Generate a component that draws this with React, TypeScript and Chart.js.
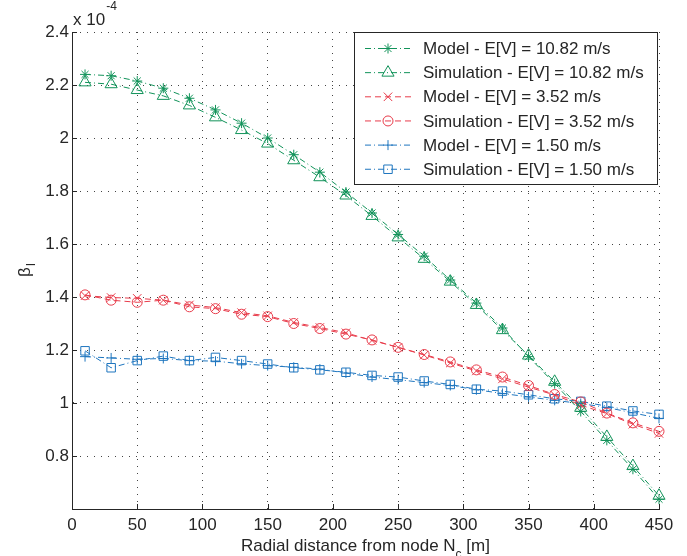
import React, { useEffect, useRef } from 'react';
import { Chart, registerables } from 'chart.js';
import { drawPoint } from 'chart.js/helpers';

Chart.register(...registerables);

// ---- data (values in units of 1e-4) ----
const distances = [10, 30, 50, 70, 90, 110, 130, 150, 170, 190, 210, 230, 250, 270, 290, 310, 330, 350, 370, 390, 410, 430, 450];

const modelHigh = [2.240, 2.235, 2.215, 2.188, 2.150, 2.106, 2.056, 2.000, 1.937, 1.871, 1.796, 1.717, 1.636, 1.554, 1.464, 1.377, 1.283, 1.175, 1.073, 0.968, 0.859, 0.750, 0.637];
const simHigh = [2.210, 2.203, 2.181, 2.159, 2.123, 2.078, 2.030, 1.979, 1.916, 1.852, 1.783, 1.706, 1.625, 1.544, 1.458, 1.370, 1.275, 1.179, 1.080, 0.982, 0.872, 0.762, 0.650];
const modelMid = [1.405, 1.398, 1.395, 1.388, 1.370, 1.360, 1.341, 1.329, 1.304, 1.285, 1.265, 1.236, 1.210, 1.181, 1.151, 1.121, 1.091, 1.060, 1.030, 0.992, 0.960, 0.920, 0.885];
const simMid = [1.408, 1.388, 1.380, 1.388, 1.363, 1.356, 1.335, 1.326, 1.300, 1.281, 1.260, 1.238, 1.210, 1.183, 1.155, 1.125, 1.098, 1.066, 1.032, 1.004, 0.962, 0.925, 0.893];
const modelLow = [1.175, 1.170, 1.165, 1.168, 1.160, 1.158, 1.148, 1.141, 1.135, 1.128, 1.113, 1.098, 1.088, 1.077, 1.066, 1.050, 1.036, 1.023, 1.010, 0.998, 0.983, 0.963, 0.942];
const simLow = [1.197, 1.133, 1.160, 1.177, 1.160, 1.172, 1.160, 1.147, 1.133, 1.125, 1.116, 1.104, 1.098, 1.083, 1.070, 1.052, 1.045, 1.031, 1.016, 1.006, 0.988, 0.970, 0.957];

const seriesLabels = [
  'Model - E[V] = 10.82 m/s',
  'Simulation - E[V] = 10.82 m/s',
  'Model - E[V] = 3.52 m/s',
  'Simulation - E[V] = 3.52 m/s',
  'Model - E[V] = 1.50 m/s',
  'Simulation - E[V] = 1.50 m/s',
];
const seriesValues = [modelHigh, simHigh, modelMid, simMid, modelLow, simLow];

const xLabelMain = 'Radial distance from node N';
const xLabelSub = 'c';
const xLabelTail = ' [m]';
const yLabelMain = 'β';
const yLabelSub = 'I';
const exponentBase = 'x 10';
const exponentPower = '-4';

// ---- styles ----
const FONT = '"Liberation Sans", Arial, Helvetica, sans-serif';
const TEXT = '#262626';
const GREEN = '#12935a';
const RED = '#e83c4b';
const BLUE = '#1f76bf';
const DASHDOT = [6, 3, 1, 3];
const DASHED = [6, 4];

const seriesColors = [GREEN, GREEN, RED, RED, BLUE, BLUE];
const seriesMarkers = ['star', 'triangle', 'crossRot', 'circle', 'cross', 'rect'];
const seriesRadius = [5, 7, 6, 5, 5, 6];
const seriesDash = [DASHDOT, DASHDOT, DASHED, DASHED, DASHDOT, DASHDOT];

const decorPlugin = {
  id: 'matlabDecor',
  afterDraw(chart: any) {
    const { ctx, chartArea } = chart;
    const { left, right, top, bottom } = chartArea;
    const xs = chart.scales.x;
    const ys = chart.scales.y;
    ctx.save();

    // inside tick marks
    ctx.strokeStyle = TEXT;
    ctx.lineWidth = 1;
    ctx.setLineDash([]);
    ctx.beginPath();
    xs.ticks.forEach((t: any) => {
      const px = Math.round(xs.getPixelForValue(t.value)) + 0.5;
      ctx.moveTo(px, bottom);
      ctx.lineTo(px, bottom - 5);
    });
    ys.ticks.forEach((t: any) => {
      const py = Math.round(ys.getPixelForValue(t.value)) + 0.5;
      ctx.moveTo(left, py);
      ctx.lineTo(left + 5, py);
    });
    ctx.stroke();

    ctx.fillStyle = TEXT;
    ctx.textBaseline = 'alphabetic';
    ctx.textAlign = 'left';

    // exponent
    ctx.font = `17px ${FONT}`;
    ctx.fillText(exponentBase, left + 1, 25);
    const bw = ctx.measureText(exponentBase).width;
    ctx.font = `12px ${FONT}`;
    ctx.fillText(exponentPower, left + 1 + bw + 1, 10);

    // x label
    ctx.font = `17px ${FONT}`;
    const w1 = ctx.measureText(xLabelMain).width;
    const w3 = ctx.measureText(xLabelTail).width;
    ctx.font = `12px ${FONT}`;
    const w2 = ctx.measureText(xLabelSub).width;
    const total = w1 + w2 + w3;
    let sx = (left + right) / 2 - total / 2;
    const by = 551;
    ctx.font = `17px ${FONT}`;
    ctx.fillText(xLabelMain, sx, by);
    ctx.font = `12px ${FONT}`;
    ctx.fillText(xLabelSub, sx + w1, by + 7);
    ctx.font = `17px ${FONT}`;
    ctx.fillText(xLabelTail, sx + w1 + w2, by);

    // y label (rotated)
    ctx.save();
    ctx.translate(30, (top + bottom) / 2);
    ctx.rotate(-Math.PI / 2);
    ctx.font = `17px ${FONT}`;
    const yb = ctx.measureText(yLabelMain).width;
    ctx.font = `12px ${FONT}`;
    const ysw = ctx.measureText(yLabelSub).width;
    const ys0 = -(yb + ysw) / 2;
    ctx.font = `17px ${FONT}`;
    ctx.fillText(yLabelMain, ys0, 0);
    ctx.font = `12px ${FONT}`;
    ctx.fillText(yLabelSub, ys0 + yb + 1, 5);
    ctx.restore();

    // legend
    const lx0 = 354.5, lx1 = 657.5, ly0 = 32.5, ly1 = 184.5;
    ctx.fillStyle = '#ffffff';
    ctx.fillRect(lx0, ly0, lx1 - lx0, ly1 - ly0);
    ctx.strokeStyle = TEXT;
    ctx.lineWidth = 1;
    ctx.strokeRect(lx0, ly0, lx1 - lx0, ly1 - ly0);
    chart.data.datasets.forEach((ds: any, i: number) => {
      const cy = 48.5 + i * 24.15;
      ctx.strokeStyle = ds.borderColor;
      ctx.lineWidth = 1;
      ctx.setLineDash(ds.borderDash || []);
      ctx.beginPath();
      ctx.moveTo(365, cy);
      ctx.lineTo(411, cy);
      ctx.stroke();
      ctx.setLineDash([]);
      ctx.fillStyle = 'rgba(0,0,0,0)';
      ctx.strokeStyle = ds.borderColor;
      drawPoint(ctx, { pointStyle: ds.pointStyle, radius: ds.pointRadius, rotation: 0, borderWidth: 1 }, 388, cy);
      ctx.fillStyle = TEXT;
      ctx.font = `17px ${FONT}`;
      ctx.textBaseline = 'middle';
      ctx.fillText(ds.label, 423, cy + 1);
    });

    ctx.restore();
  },
};

export default function App() {
  const ref = useRef<HTMLCanvasElement | null>(null);

  useEffect(() => {
    document.body.style.margin = '0';
    const canvas = ref.current;
    if (!canvas) return;
    Chart.defaults.font.family = FONT;
    Chart.defaults.color = TEXT;

    const datasets = seriesValues.map((vals, i) => ({
      label: seriesLabels[i],
      data: distances.map((d, j) => ({ x: d, y: vals[j] })),
      borderColor: seriesColors[i],
      backgroundColor: 'rgba(0,0,0,0)',
      borderWidth: 1,
      borderDash: seriesDash[i],
      pointStyle: seriesMarkers[i],
      pointRadius: seriesRadius[i],
      pointHoverRadius: seriesRadius[i],
      pointBorderColor: seriesColors[i],
      pointBackgroundColor: 'rgba(0,0,0,0)',
      pointBorderWidth: 1,
      tension: 0,
      fill: false,
      clip: false as any,
    }));

    const chart = new Chart(canvas, {
      type: 'line',
      data: { datasets: datasets as any },
      options: {
        responsive: false,
        animation: false,
        devicePixelRatio: 1,
        layout: { padding: { top: 32, right: 28, left: 0, bottom: 0 } },
        plugins: { legend: { display: false }, tooltip: { enabled: false }, title: { display: false } },
        scales: {
          x: {
            type: 'linear',
            min: 0,
            max: 450,
            ticks: { stepSize: 50, padding: 6, color: TEXT, font: { size: 17, family: FONT }, maxRotation: 0 },
            grid: { color: '#444', lineWidth: 1, drawTicks: false },
            border: { display: true, color: TEXT, width: 1, dash: [1, 6] },
            afterFit: (s: any) => { s.height = 47; },
          },
          y: {
            type: 'linear',
            min: 0.6,
            max: 2.4,
            ticks: {
              stepSize: 0.2,
              padding: 3,
              color: TEXT,
              font: { size: 17, family: FONT },
              callback: (v: any) => {
                const r = Math.round(Number(v) * 10) / 10;
                if (Math.abs(r - 0.6) < 1e-6) return '';
                return String(r);
              },
            },
            grid: { color: '#444', lineWidth: 1, drawTicks: false },
            border: { display: true, color: TEXT, width: 1, dash: [1, 6] },
            afterFit: (s: any) => { s.width = 72; },
          },
        },
      },
      plugins: [decorPlugin],
    });
    return () => chart.destroy();
  }, []);

  return (
    <div style={{ width: 687, height: 556, background: '#fff' }}>
      <canvas ref={ref} width={687} height={556} style={{ display: 'block' }} />
    </div>
  );
}
